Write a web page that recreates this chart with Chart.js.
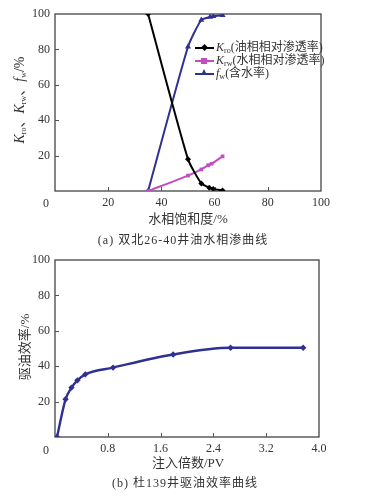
<!DOCTYPE html>
<html><head><meta charset="utf-8">
<script src="https://cdn.jsdelivr.net/npm/chart.js@4.4.1/dist/chart.umd.min.js"></script>
<style>
html,body{margin:0;padding:0;background:#fff;}
#wrap{position:relative;width:368px;height:497px;background:#fff;overflow:hidden;font-family:"Liberation Serif","Noto Sans CJK SC",serif;color:#333;}
.box{position:absolute;}
.txt{position:absolute;white-space:nowrap;font-size:13px;color:#333;}
.rot{transform:translate(-50%,-50%) rotate(-90deg);}
.ctr{transform:translate(-50%,-50%);}
sub{font-size:8px;vertical-align:-2px;}
.leg{position:absolute;left:195px;font-size:12px;white-space:nowrap;line-height:12px;}
.ln{display:inline-block;position:relative;width:19px;height:2px;vertical-align:middle;margin-right:2px;}
.mk{position:absolute;left:7px;}
</style>
</head><body>
<div id="wrap">
  <div class="box" style="left:0;top:0;width:368px;height:212px;"><canvas id="c1"></canvas></div>
  <div class="box" style="left:0;top:246px;width:368px;height:212px;"><canvas id="c2"></canvas></div>

  <div class="txt rot" style="left:18px;top:100px;font-size:14px;"><i>K</i><sub>ro</sub>、<i>K</i><sub>rw</sub>、<i>f</i><sub>w</sub>/%</div>
  <div class="txt" style="left:46px;top:203px;font-size:12px;transform:translate(-50%,-50%);">0</div>
  <div class="txt ctr" style="left:188px;top:217px;">水相饱和度/%</div>
  <div class="txt ctr" style="left:183px;top:239px;font-size:12px;letter-spacing:1px;">(a) 双北26-40井油水相渗曲线</div>

  <div class="leg" style="top:41px;"><span class="ln" style="background:#000;"><span class="mk" style="top:-2px;width:5px;height:5px;background:#000;transform:rotate(45deg);left:7px;"></span></span><i>K</i><sub>ro</sub>(油相相对渗透率)</div>
  <div class="leg" style="top:54px;"><span class="ln" style="background:#c24cc2;"><span class="mk" style="top:-2px;width:6px;height:6px;background:#c24cc2;left:6px;"></span></span><i>K</i><sub>rw</sub>(水相相对渗透率)</div>
  <div class="leg" style="top:67px;"><span class="ln" style="background:#2e3192;"><span class="mk" style="top:-4px;width:0;height:0;border-left:3.5px solid transparent;border-right:3.5px solid transparent;border-bottom:6px solid #2e3192;left:6px;"></span></span><i>f</i><sub>w</sub>(含水率)</div>

  <div class="txt rot" style="left:23px;top:347px;">驱油效率/%</div>
  <div class="txt" style="left:46px;top:450px;font-size:12px;transform:translate(-50%,-50%);">0</div>
  <div class="txt ctr" style="left:188px;top:461px;">注入倍数/PV</div>
  <div class="txt ctr" style="left:185px;top:482px;font-size:12px;letter-spacing:1px;">(b) 杜139井驱油效率曲线</div>
</div>
<script>
// ---- Chart (a) data ----
const swKro = [35, 50, 55, 58, 59.5, 63];
const kro   = [100, 18, 4.3, 1.9, 1.2, 0.3];
const swKrw = [35, 50, 55, 57.6, 58.9, 63];
const krw   = [0, 8.7, 12.2, 14.6, 15.4, 19.6];
const swFw  = [35, 50, 55, 58.3, 59.5, 63];
const fw    = [0, 81.5, 96.6, 98.3, 98.7, 99.3];
const xTicksA = [0, 20, 40, 60, 80, 100];
const yTicks  = [0, 20, 40, 60, 80, 100];

// ---- Chart (b) data ----
const pv  = [0.03, 0.16, 0.25, 0.34, 0.46, 0.88, 1.79, 2.66, 3.76];
const eff = [0, 21.3, 27.9, 32, 35.4, 39.2, 46.6, 50.4, 50.4];
const xTicksB = [0, 0.8, 1.6, 2.4, 3.2, 4.0];

const pts = (xs, ys) => xs.map((x, i) => ({x: x, y: ys[i]}));
const tickFont = {family: "'Liberation Serif', serif", size: 12};

const framePlugin = {
  id: 'frame',
  beforeDatasetsDraw(chart) {
    const {ctx, chartArea: a, scales} = chart;
    ctx.save();
    ctx.strokeStyle = '#444';
    ctx.lineWidth = 1.3;
    ctx.strokeRect(a.left, a.top, a.right - a.left, a.bottom - a.top);
    ctx.lineWidth = 1;
    ctx.strokeStyle = '#555';
    scales.x.ticks.forEach(t => {
      if (t.value <= scales.x.min || t.value >= scales.x.max) return;
      const px = Math.round(scales.x.getPixelForValue(t.value)) + 0.5;
      ctx.beginPath(); ctx.moveTo(px, a.bottom); ctx.lineTo(px, a.bottom - 4); ctx.stroke();
    });
    scales.y.ticks.forEach(t => {
      if (t.value <= scales.y.min || t.value >= scales.y.max) return;
      const py = Math.round(scales.y.getPixelForValue(t.value)) + 0.5;
      ctx.beginPath(); ctx.moveTo(a.left, py); ctx.lineTo(a.left + 4, py); ctx.stroke();
    });
    ctx.restore();
  }
};

function axes(xmin, xmax, xvals, fmt) {
  return {
    x: {
      type: 'linear', min: xmin, max: xmax,
      afterBuildTicks: s => { s.ticks = xvals.map(v => ({value: v})); },
      afterFit: s => { s.height = 21; },
      grid: {display: false, drawTicks: false},
      border: {display: false},
      ticks: {font: tickFont, color: '#333', padding: 5, maxRotation: 0,
              callback: v => (v === 0 ? '' : fmt(v))}
    },
    y: {
      type: 'linear', min: 0, max: 100,
      afterBuildTicks: s => { s.ticks = yTicks.map(v => ({value: v})); },
      afterFit: s => { s.width = 55; },
      grid: {display: false, drawTicks: false},
      border: {display: false},
      ticks: {font: tickFont, color: '#333', padding: 5,
              callback: v => (v === 0 ? '' : String(v))}
    }
  };
}

const common = {
  responsive: true, maintainAspectRatio: false, animation: false,
  plugins: {legend: {display: false}, tooltip: {enabled: false}}
};

new Chart(document.getElementById('c1'), {
  type: 'line',
  data: {datasets: [
    {label: 'Kro', data: pts(swKro, kro), borderColor: '#000', backgroundColor: '#000',
     borderWidth: 2, tension: 0.2, pointStyle: 'rectRot', pointRadius: 3, pointBorderWidth: 0},
    {label: 'Krw', data: pts(swKrw, krw), borderColor: '#c24cc2', backgroundColor: '#c24cc2',
     borderWidth: 2, tension: 0.2, pointStyle: 'rect', pointRadius: 2.6, pointBorderWidth: 0},
    {label: 'fw', data: pts(swFw, fw), borderColor: '#2e3192', backgroundColor: '#2e3192',
     borderWidth: 2, tension: 0.2, pointStyle: 'triangle', pointRadius: 3.5, pointBorderWidth: 0}
  ]},
  options: Object.assign({}, common, {
    layout: {padding: {top: 14, right: 47, left: 0, bottom: 0}},
    scales: axes(0, 100, xTicksA, v => String(v))
  }),
  plugins: [framePlugin]
});

new Chart(document.getElementById('c2'), {
  type: 'line',
  data: {datasets: [
    {label: '驱油效率', data: pts(pv, eff), borderColor: '#2e3192', backgroundColor: '#2e3192',
     borderWidth: 2.4, cubicInterpolationMode: 'monotone', pointStyle: 'rectRot', pointRadius: 3.2, pointBorderWidth: 0}
  ]},
  options: Object.assign({}, common, {
    layout: {padding: {top: 14, right: 49, left: 0, bottom: 0}},
    scales: axes(0, 4, xTicksB, v => Number(v).toFixed(1))
  }),
  plugins: [framePlugin]
});
</script>
</body></html>
